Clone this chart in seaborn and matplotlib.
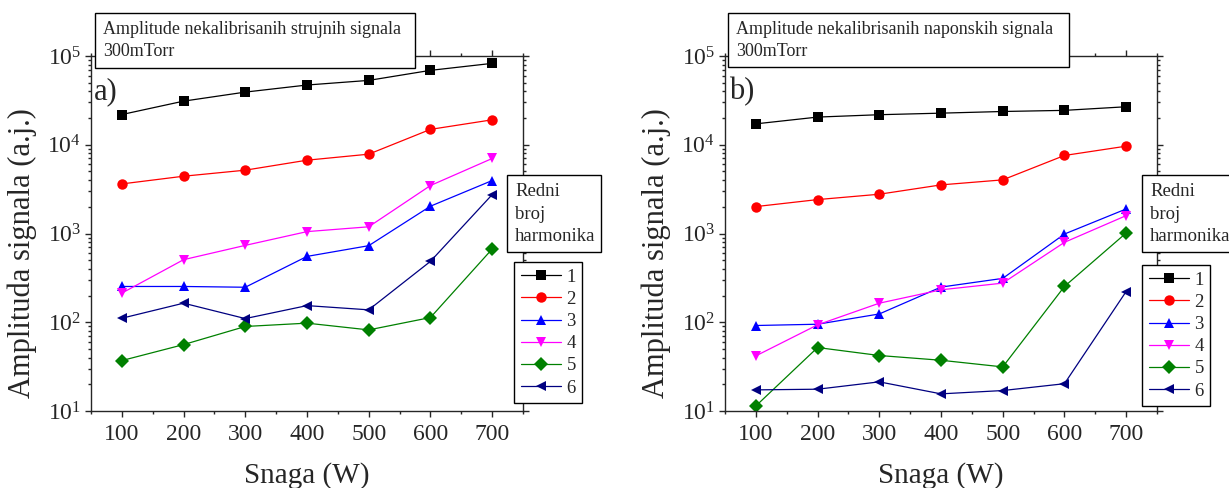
import matplotlib
matplotlib.use('Agg')
from matplotlib.lines import Line2D
from matplotlib.patches import Rectangle
from matplotlib.ticker import MultipleLocator, LogLocator
import matplotlib.pyplot as plt
import pandas as pd
import seaborn as sns

# Snaga (W)
power = [100, 200, 300, 400, 500, 600, 700]
harmonics = ['1', '2', '3', '4', '5', '6']

# a) struja - amplitude po harmonicima
current_h1 = [21900, 31000, 39200, 47100, 53100, 68900, 82600]
current_h2 = [3620, 4420, 5170, 6700, 7830, 14900, 19100]
current_h3 = [253, 253, 248, 552, 729, 2030, 3950]
current_h4 = [213, 507, 735, 1050, 1190, 3470, 7000]
current_h5 = [37, 56, 89.6, 97.7, 82, 113, 668]
current_h6 = [111, 164, 110, 154, 138, 485, 2740]

# b) napon - amplitude po harmonicima
voltage_h1 = [17200, 20500, 21800, 22700, 23700, 24400, 26800]
voltage_h2 = [2010, 2410, 2770, 3530, 4020, 7570, 9640]
voltage_h3 = [91.9, 95, 124, 249, 312, 986, 1890]
voltage_h4 = [41.8, 93.5, 164, 232, 276, 795, 1590]
voltage_h5 = [11.4, 51.9, 42.2, 37.3, 31.4, 253, 1013]
voltage_h6 = [17.3, 17.6, 21.3, 15.6, 17.0, 20.3, 222]

titles = ['Amplitude nekalibrisanih strujnih signala\n300mTorr',
          'Amplitude nekalibrisanih naponskih signala\n300mTorr']
panel_tags = ['a)', 'b)']

my_palette = ['#000000', '#ff0000', '#0000ff', '#ff00ff', '#008000', '#000080']
my_markers = ['s', 'o', '^', 'v', 'D', '<']

W, H = 1229, 488


def long_form(series):
    rows = []
    for name, vals in zip(harmonics, series):
        for p, v in zip(power, vals):
            rows.append({'power': p, 'harmonic': name, 'amp': v})
    return pd.DataFrame(rows)


data_a = long_form([current_h1, current_h2, current_h3, current_h4, current_h5, current_h6])
data_b = long_form([voltage_h1, voltage_h2, voltage_h3, voltage_h4, voltage_h5, voltage_h6])

sns.set_style('ticks')
plt.rcParams['font.family'] = ['Liberation Serif', 'DejaVu Serif']
plt.rcParams['mathtext.fontset'] = 'stix'
plt.rcParams['axes.linewidth'] = 1.0

fig = plt.figure(figsize=(W / 100, H / 100), dpi=100)


def fig_box(x0, y0, x1, y1):
    # rectangle in pixel coords (top-left origin)
    fig.patches.append(Rectangle((x0 / W, 1 - y1 / H), (x1 - x0) / W, (y1 - y0) / H,
                                 transform=fig.transFigure, facecolor='white',
                                 edgecolor='black', linewidth=1.0, zorder=3))


layout = [
    dict(ax_x=91, title=(95, 13, 415, 68), tag_x=94, redni=(507, 175, 601, 252), leg=(514, 262)),
    dict(ax_x=725, title=(728, 13, 1069, 67), tag_x=729, redni=(1142, 175, 1240, 252), leg=(1142, 265)),
]

for data, title, tag, lay in zip([data_a, data_b], titles, panel_tags, layout):
    ax = fig.add_axes([lay['ax_x'] / W, 1 - 411 / H, 432 / W, 355 / H])
    ax.set_yscale('log')
    sns.lineplot(ax=ax, data=data, x='power', y='amp', hue='harmonic', style='harmonic',
                 palette=my_palette, markers=my_markers, dashes=False,
                 markersize=7.5, markeredgewidth=0, linewidth=0.9, legend=False)

    ax.set_xlim(50, 750)
    ax.set_ylim(10, 1e5)
    ax.xaxis.set_major_locator(MultipleLocator(100))
    ax.xaxis.set_minor_locator(MultipleLocator(50))
    ax.yaxis.set_major_locator(LogLocator(base=10, numticks=10))
    ax.yaxis.set_minor_locator(LogLocator(base=10, subs=range(2, 10), numticks=20))
    ax.tick_params(which='both', direction='out', top=True, right=True, labelsize=17, width=1.0)
    ax.tick_params(which='major', length=4)
    ax.tick_params(which='minor', length=2.5)
    ax.tick_params(axis='x', pad=5)
    ax.tick_params(axis='y', pad=3)

    ax.set_xlabel('Snaga (W)', fontsize=21)
    ax.set_ylabel('Amplituda signala (a.j.)', fontsize=22)
    ax.xaxis.set_label_coords(0.5, -0.145)
    ax.yaxis.set_label_coords(-0.16, 0.445)
    ax.xaxis.label.set_va('top')
    ax.yaxis.label.set_va('center')

    # panel tag
    fig.text(lay['tag_x'] / W, 1 - 92 / H, tag, fontsize=22, va='center', ha='left')

    # title box
    x0, y0, x1, y1 = lay['title']
    fig_box(x0, y0, x1, y1)
    for i, line in enumerate(title.split('\n')):
        fig.text((x0 + 8) / W, 1 - (30 + 22 * i) / H, line, fontsize=13,
                 va='center', ha='left', zorder=4)

    # "Redni broj harmonika" box
    x0, y0, x1, y1 = lay['redni']
    fig_box(x0, y0, x1, y1)
    for i, line in enumerate(['Redni', 'broj', 'harmonika']):
        fig.text((x0 + 8) / W, 1 - (192 + 22.5 * i) / H, line, fontsize=13.5,
                 va='center', ha='left', zorder=4)

    handles = [Line2D([0], [0], color=c, marker=m, markersize=7.5, markeredgewidth=0, linewidth=0.9)
               for c, m in zip(my_palette, my_markers)]
    lx, ly = lay['leg']
    leg = fig.legend(handles, harmonics, loc='upper left', bbox_to_anchor=(lx / W, 1 - ly / H),
                     bbox_transform=fig.transFigure, borderaxespad=0, fontsize=13.5,
                     handlelength=2.15, handletextpad=0.3, labelspacing=0.27, borderpad=0.35,
                     frameon=True, fancybox=False, framealpha=1, edgecolor='black')
    leg.get_frame().set_linewidth(1.0)
    leg.set_zorder(5)

plt.savefig('out.png', dpi=100)
